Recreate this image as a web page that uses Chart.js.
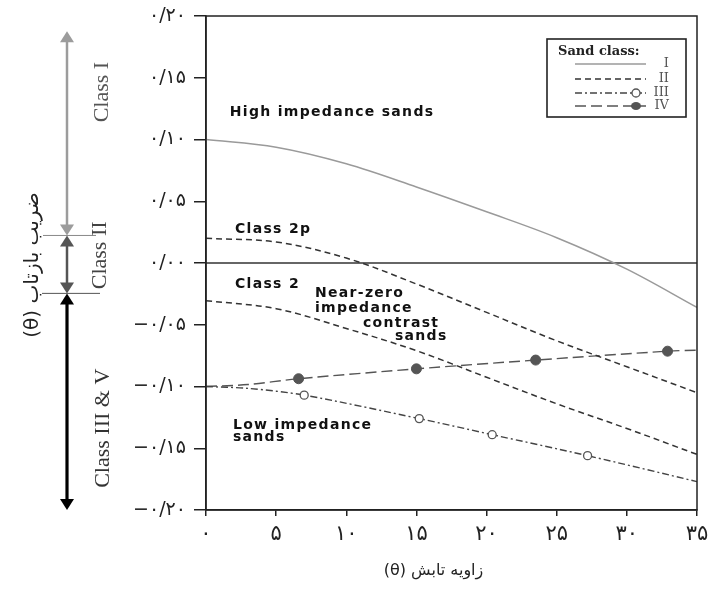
<!DOCTYPE html>
<html><head><meta charset="utf-8">
<script src="https://cdn.jsdelivr.net/npm/chart.js@4.4.0/dist/chart.umd.min.js"></script>
<style>html,body{margin:0;padding:0;background:#fff;}#wrap{width:716px;height:592px;}</style>
</head><body><div id="wrap"><canvas id="c" width="716" height="592"></canvas></div>
<script>
// ---- data ----
const thetaGrid = [0, 5, 10, 15, 20, 25, 30, 35];
const classI  = [0.100, 0.0938, 0.0804, 0.0616, 0.0415, 0.0205, -0.005, -0.036];
const class2p = [0.020, 0.017, 0.004, -0.017, -0.040, -0.063, -0.084, -0.105];
const class2  = [-0.0305, -0.037, -0.053, -0.071, -0.0925, -0.114, -0.134, -0.155];
const thetaIII = [0, 3, 7.0, 15.2, 20.4, 27.2, 35];
const classIII = [-0.100, -0.1015, -0.107, -0.126, -0.139, -0.156, -0.177];
const markIII  = [0, 0, 1, 1, 1, 1, 0];
const thetaIV  = [0, 3, 6.6, 15.0, 23.5, 32.9, 35];
const classIV  = [-0.100, -0.0984, -0.0937, -0.0857, -0.0786, -0.0714, -0.0706];
const markIV   = [0, 0, 1, 1, 1, 1, 0];
const xTickValues = [0, 5, 10, 15, 20, 25, 30, 35];
const xTickLabels = ['۰', '۵', '۱۰', '۱۵', '۲۰', '۲۵', '۳۰', '۳۵'];
const yTickValues = [-0.20, -0.15, -0.10, -0.05, 0, 0.05, 0.10, 0.15, 0.20];
const yTickLabels = ['−۰/۲۰', '−۰/۱۵', '−۰/۱۰', '−۰/۰۵', '۰/۰۰', '۰/۰۵', '۰/۱۰', '۰/۱۵', '۰/۲۰'];
const legendTitle = 'Sand class:';
const legendLabels = ['I', 'II', 'III', 'IV'];
const xTitle = 'زاویه تابش (θ)';
const yTitle = 'ضریب بازتاب (θ)';
// in-plot annotations: [text, theta, value]
const plotNotes = [
  ['High impedance sands', 1.7, 0.1223],
  ['Class 2p', 2.07, 0.0269],
  ['Class 2', 2.07, -0.0169],
  ['Near-zero', 7.77, -0.0246],
  ['impedance', 7.77, -0.0364],
  ['contrast', 11.19, -0.0492],
  ['sands', 13.47, -0.0595],
  ['Low impedance', 1.92, -0.1315],
  ['sands', 1.92, -0.1415]
];
// class ranges on the left (values of reflection coefficient)
const classBounds = [0.1877, 0.0223, -0.0246, -0.20];
const classNames = ['Class I', 'Class II', 'Class III & V'];
const classNameAt = [0.1384, 0.0062, -0.1338];

const pts = (xs, ys) => xs.map((x, i) => ({x: x, y: ys[i]}));

const decor = {
  id: 'decor',
  beforeDatasetsDraw(chart) {
    const {ctx, chartArea: a, scales: {y}} = chart;
    const y0 = y.getPixelForValue(0);
    ctx.save();
    ctx.strokeStyle = '#333'; ctx.lineWidth = 1.5;
    ctx.beginPath(); ctx.moveTo(a.left, y0); ctx.lineTo(a.right, y0); ctx.stroke();
    ctx.restore();
  },
  afterDraw(chart) {
    const {ctx, chartArea: a, scales: {x, y}} = chart;
    ctx.save();
    // frame
    ctx.strokeStyle = '#222'; ctx.lineWidth = 1.5;
    ctx.strokeRect(a.left, a.top, a.right - a.left, a.bottom - a.top);

    // plot notes
    ctx.fillStyle = '#111';
    ctx.font = 'bold 14px "DejaVu Sans"';
    ctx.letterSpacing = '1.3px';
    ctx.textAlign = 'left'; ctx.textBaseline = 'middle';
    plotNotes.forEach(n => ctx.fillText(n[0], x.getPixelForValue(n[1]), y.getPixelForValue(n[2])));
    ctx.letterSpacing = '0px';

    // legend box
    const bx = a.right - 150, by = a.top + 23, bw = 139, bh = 78;
    ctx.fillStyle = '#fff';
    ctx.fillRect(bx, by, bw, bh);
    ctx.strokeStyle = '#222'; ctx.lineWidth = 1.6;
    ctx.strokeRect(bx, by, bw, bh);
    ctx.fillStyle = '#222';
    ctx.font = 'bold 13px "DejaVu Serif"';
    ctx.textAlign = 'left';
    ctx.fillText(legendTitle, bx + 11, by + 13);
    const rows = [25, 40, 54, 67];
    const styles = [
      {c: '#9a9a9a', d: [], m: null},
      {c: '#333', d: [6, 4], m: null},
      {c: '#444', d: [7, 3, 2, 3], m: 'open'},
      {c: '#555', d: [11, 5], m: 'fill'}
    ];
    const lx0 = bx + 28, lx1 = bx + 99, mx = bx + 89;
    rows.forEach((r, i) => {
      const st = styles[i], yy = by + r;
      ctx.strokeStyle = st.c; ctx.lineWidth = 1.3; ctx.setLineDash(st.d);
      ctx.beginPath(); ctx.moveTo(lx0, yy); ctx.lineTo(lx1, yy); ctx.stroke();
      ctx.setLineDash([]);
      if (st.m === 'open') {
        ctx.fillStyle = '#fff'; ctx.strokeStyle = '#555';
        ctx.beginPath(); ctx.arc(mx, yy, 4, 0, Math.PI * 2); ctx.fill(); ctx.stroke();
      } else if (st.m === 'fill') {
        ctx.fillStyle = '#555';
        ctx.beginPath(); ctx.ellipse(mx, yy, 5, 4, 0, 0, Math.PI * 2); ctx.fill();
      }
      ctx.fillStyle = '#555';
      ctx.font = '13px "DejaVu Serif"';
      ctx.textAlign = 'right';
      ctx.fillText(legendLabels[i], bx + 122, yy);
    });

    // left class arrows
    const ax = 67;
    const py = classBounds.map(v => y.getPixelForValue(v));
    const head = (tipY, dir, col) => {
      ctx.fillStyle = col;
      ctx.beginPath();
      ctx.moveTo(ax, tipY);
      ctx.lineTo(ax - 7, tipY - dir * 11);
      ctx.lineTo(ax + 7, tipY - dir * 11);
      ctx.closePath(); ctx.fill();
    };
    const seg = (t, b, col, w) => {
      ctx.strokeStyle = col; ctx.lineWidth = w;
      ctx.beginPath(); ctx.moveTo(ax, t + 8); ctx.lineTo(ax, b - 8); ctx.stroke();
      head(t, -1, col); head(b, 1, col);
    };
    seg(py[0], py[1], '#9c9c9c', 2.5);
    seg(py[1], py[2], '#555', 2.5);
    seg(py[2], py[3], '#000', 3.2);
    ctx.lineWidth = 1;
    ctx.strokeStyle = '#888';
    ctx.beginPath(); ctx.moveTo(43, py[1]); ctx.lineTo(96, py[1]); ctx.stroke();
    ctx.strokeStyle = '#555';
    ctx.beginPath(); ctx.moveTo(42, py[2]); ctx.lineTo(100, py[2]); ctx.stroke();

    // class names (rotated)
    ctx.font = '22px "Liberation Serif"';
    ctx.textAlign = 'center'; ctx.textBaseline = 'middle';
    const nameCol = ['#555', '#444', '#333'];
    const nameX = [102, 100, 103];
    classNames.forEach((t, i) => {
      ctx.save();
      ctx.translate(nameX[i], y.getPixelForValue(classNameAt[i]));
      ctx.rotate(-Math.PI / 2);
      ctx.fillStyle = nameCol[i];
      ctx.fillText(t, 0, 0);
      ctx.restore();
    });

    // axis titles
    ctx.fillStyle = '#222';
    ctx.direction = 'rtl';
    ctx.font = '20px "DejaVu Sans"';
    ctx.save();
    ctx.translate(33, 265);
    ctx.rotate(-Math.PI / 2);
    ctx.textAlign = 'center';
    ctx.fillText(yTitle, 0, 0);
    ctx.restore();
    ctx.font = '16px "DejaVu Sans"';
    ctx.textAlign = 'center';
    ctx.fillText(xTitle, (a.left + a.right) / 2 - 18, 571);
    ctx.restore();
  }
};

new Chart(document.getElementById('c'), {
  type: 'line',
  data: {
    datasets: [
      {label: 'I', data: pts(thetaGrid, classI), borderColor: '#9a9a9a', borderWidth: 1.5, pointRadius: 0, tension: 0.35},
      {label: 'II', data: pts(thetaGrid, class2p), borderColor: '#333', borderWidth: 1.5, borderDash: [6, 4], pointRadius: 0, tension: 0.35},
      {label: 'II', data: pts(thetaGrid, class2), borderColor: '#333', borderWidth: 1.5, borderDash: [6, 4], pointRadius: 0, tension: 0.35},
      {label: 'III', data: pts(thetaIII, classIII), borderColor: '#444', borderWidth: 1.4, borderDash: [7, 3, 2, 3], tension: 0.3,
        pointRadius: markIII.map(m => m ? 4 : 0), pointBackgroundColor: '#fff', pointBorderColor: '#555', pointBorderWidth: 1.3},
      {label: 'IV', data: pts(thetaIV, classIV), borderColor: '#555', borderWidth: 1.4, borderDash: [11, 5], tension: 0.3,
        pointRadius: markIV.map(m => m ? 5 : 0), pointBackgroundColor: '#555', pointBorderColor: '#555', pointBorderWidth: 1}
    ]
  },
  options: {
    responsive: false,
    animation: false,
    devicePixelRatio: 1,
    layout: {padding: {left: 0, top: 16, right: 19, bottom: 0}},
    plugins: {legend: {display: false}, tooltip: {enabled: false}},
    scales: {
      x: {
        type: 'linear', min: 0, max: 35,
        afterBuildTicks: s => { s.ticks = xTickValues.map(v => ({value: v})); },
        afterFit: s => { s.height = 82; s.paddingLeft = 0; s.paddingRight = 0; },
        border: {display: true, color: '#222', width: 1.5},
        grid: {drawOnChartArea: false, drawTicks: true, tickLength: 6, color: '#222', lineWidth: 1.5},
        ticks: {callback: (v, i) => xTickLabels[i], font: {family: 'DejaVu Sans', size: 21}, color: '#222', padding: 6, maxRotation: 0}
      },
      y: {
        type: 'linear', min: -0.2, max: 0.2,
        afterBuildTicks: s => { s.ticks = yTickValues.map(v => ({value: v})); },
        afterFit: s => { s.width = 206; s.paddingTop = 0; s.paddingBottom = 0; },
        border: {display: true, color: '#222', width: 1.5},
        grid: {drawOnChartArea: false, drawTicks: true, tickLength: 12, color: '#222', lineWidth: 1.5},
        ticks: {callback: (v, i) => yTickLabels[i], font: {family: 'DejaVu Sans', size: 19}, color: '#222', padding: 8}
      }
    }
  },
  plugins: [decor]
});
</script>
</body></html>
